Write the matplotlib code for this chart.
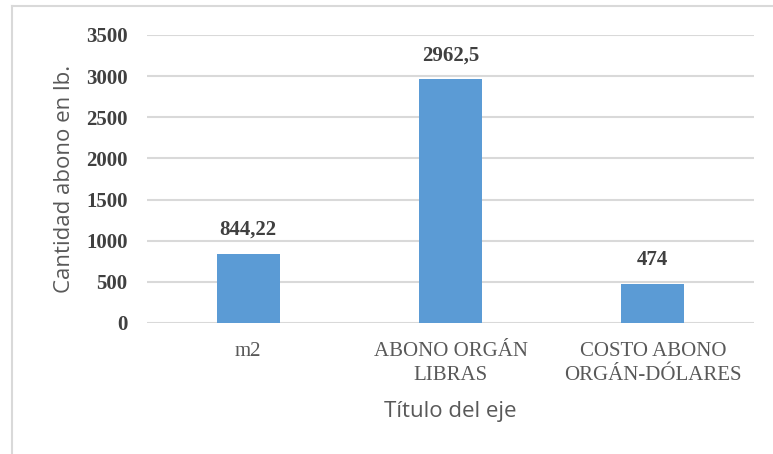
import matplotlib
matplotlib.use('Agg')
import matplotlib.pyplot as plt
from matplotlib.lines import Line2D

# datos
categorias = ['m2', 'ABONO ORGÁN\nLIBRAS', 'COSTO ABONO\nORGÁN-DÓLARES']
valores = [844.22, 2962.5, 474]
etiquetas = ['844,22', '2962,5', '474']
yticks = [0, 500, 1000, 1500, 2000, 2500, 3000, 3500]

azul = '#5B9BD5'
gris_grid = '#D9D9D9'

fig = plt.figure(figsize=(7.73, 4.54), dpi=100)
ax = fig.add_axes([147 / 773, 1 - 323 / 454, (754 - 147) / 773, (323 - 35) / 454])

x = list(range(len(categorias)))
ax.bar(x, valores, width=0.31, color=azul, zorder=3)

for xi, v, txt in zip(x, valores, etiquetas):
    ax.annotate(txt, (xi, v), xytext=(0, 10), textcoords='offset points',
                ha='center', va='bottom', fontsize=15, fontweight='bold',
                family='Liberation Serif', color='#404040')

ax.set_xlim(-0.5, 2.5)
ax.set_ylim(0, 3500)
ax.set_yticks(yticks)
ax.set_yticklabels([str(t) for t in yticks], fontsize=15, fontweight='bold',
                   family='Liberation Serif', color='#404040')
ax.set_xticks(x)
ax.set_xticklabels(categorias, fontsize=15, family='Liberation Serif',
                   color='#595959', linespacing=1.3)
ax.tick_params(axis='both', length=0)
ax.tick_params(axis='x', pad=14)
ax.tick_params(axis='y', pad=14)
ax.grid(axis='y', color=gris_grid, linewidth=1.5, zorder=0)
for s in ax.spines.values():
    s.set_visible(False)

ax.set_xlabel('Título del eje', fontsize=16, family='Open Sans', color='#595959', labelpad=12)
ax.set_ylabel('Cantidad abono en lb.', fontsize=16, family='Open Sans', color='#595959', labelpad=8)

# borde del grafico (recortado)
fig.add_artist(Line2D([12 / 773, 12 / 773], [0, 1 - 6 / 454], transform=fig.transFigure,
                      color=gris_grid, linewidth=1.5))
fig.add_artist(Line2D([12 / 773, 1], [1 - 6 / 454, 1 - 6 / 454], transform=fig.transFigure,
                      color=gris_grid, linewidth=1.5))

fig.savefig('out.png', dpi=100)
